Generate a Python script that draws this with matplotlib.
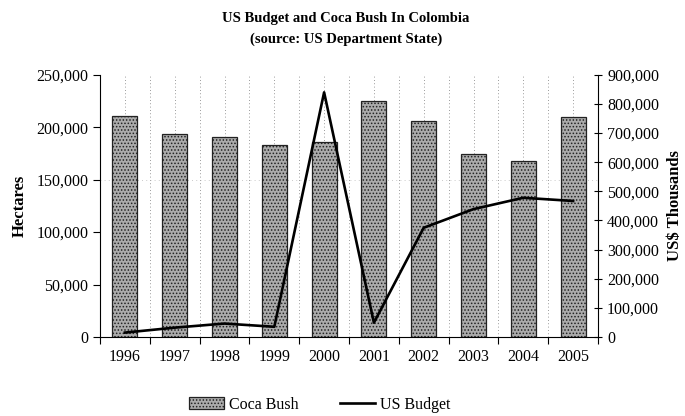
import numpy as np
import matplotlib
matplotlib.use("Agg")
from matplotlib import pyplot as plt
from matplotlib.ticker import FuncFormatter

# Colombia coca cultivation (hectares) and US budget (US$ thousands)
years = ['1996', '1997', '1998', '1999', '2000', '2001', '2002', '2003', '2004', '2005']
coca_ha = [211000, 194000, 191000, 183000, 186000, 225000, 206000, 175000, 168000, 210000]
us_budget = [15000, 32000, 46000, 35000, 840000, 49000, 375000, 439000, 478000, 467000]

plt.rcParams['font.family'] = ['Liberation Serif', 'DejaVu Serif']
plt.rcParams['hatch.color'] = '#4a4a4a'
plt.rcParams['hatch.linewidth'] = 0.7

fig = plt.figure(figsize=(6.85, 4.16), dpi=100)
ax = fig.add_axes([0.146, 0.19, 0.727, 0.63])
x = np.arange(len(years))

ax.bar(x, coca_ha, width=0.5, color='#ababab', edgecolor='#222222',
       linewidth=0.9, hatch='.....', label='Coca Bush', zorder=2)
ax.set_xlim(-0.5, len(years) - 0.5)
ax.set_ylim(0, 250000)
ax.set_yticks(range(0, 250001, 50000))
fmt = FuncFormatter(lambda v, p: '{:,.0f}'.format(v))
ax.yaxis.set_major_formatter(fmt)
ax.set_xticks(x)
ax.set_xticklabels(years)
ax.set_xticks(np.arange(-0.5, len(years), 1.0), minor=True)
ax.tick_params(axis='x', which='major', length=0, labelsize=11.5, pad=9)
ax.tick_params(axis='x', which='minor', length=5, direction='out', width=0.8)
ax.tick_params(axis='y', labelsize=11.5, length=5, direction='out', width=0.8)
ax.set_ylabel('Hectares', fontsize=12, fontweight='bold', labelpad=6)

# dotted vertical guides every half category
for gx in np.arange(0.0, len(years) - 0.5, 0.5):
    ax.axvline(gx, color='#7a7a7a', linestyle=(0, (1, 3)), linewidth=0.6, zorder=1)
ax.axhline(150000, color='#b8b8b8', linestyle=(0, (1, 4)), linewidth=0.6, zorder=1)

for side in ['top', 'right']:
    ax.spines[side].set_visible(False)
ax.spines['left'].set_linewidth(0.8)
ax.spines['bottom'].set_linewidth(0.8)

ax2 = ax.twinx()
ax2.plot(x, us_budget, color='black', linewidth=1.9, label='US Budget', zorder=3)
ax2.set_ylim(0, 900000)
ax2.set_yticks(range(0, 900001, 100000))
ax2.yaxis.set_major_formatter(fmt)
ax2.tick_params(axis='y', labelsize=11.5, length=6, direction='inout', width=0.8)
for side in ['top', 'left', 'bottom']:
    ax2.spines[side].set_visible(False)
ax2.spines['right'].set_linewidth(0.8)
ax2.set_ylabel('US$ Thousands', fontsize=12, fontweight='bold', labelpad=6)

fig.text(0.505, 0.955, 'US Budget and Coca Bush In Colombia', ha='center', va='center',
         fontsize=10.5, fontweight='bold')
fig.text(0.505, 0.905, '(source: US Department State)', ha='center', va='center',
         fontsize=10.5, fontweight='bold')

h1, l1 = ax.get_legend_handles_labels()
h2, l2 = ax2.get_legend_handles_labels()
fig.legend(h1 + h2, l1 + l2, loc='center', bbox_to_anchor=(0.467, 0.027), ncol=2,
           frameon=False, fontsize=11.5, columnspacing=2.6, handlelength=2.2,
           handleheight=0.8, handletextpad=0.3)

fig.savefig('out.png', dpi=100)
